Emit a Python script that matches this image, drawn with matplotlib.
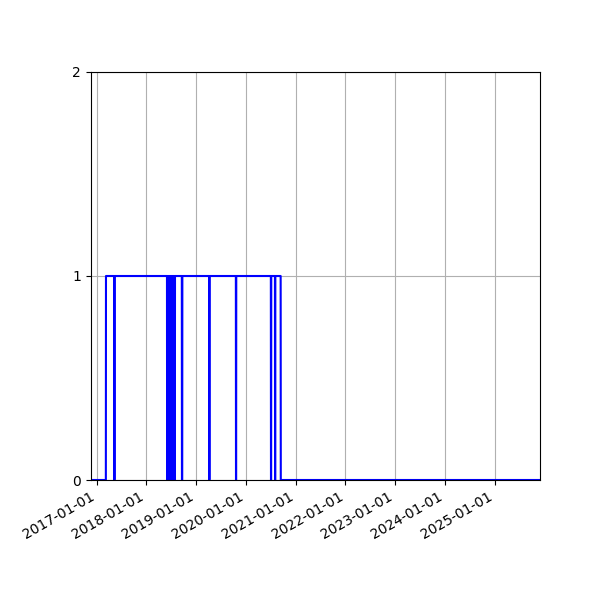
import matplotlib
matplotlib.use("Agg")
import matplotlib.pyplot as plt
import matplotlib.dates as mdates
import numpy as np
import pandas as pd

START = "2016-11-17"
END = "2025-12-01"

# periods where the flag is 1 (inclusive), everything else is 0
on_starts = [
    "2017-03-10", "2017-05-13",
    "2018-06-05", "2018-06-13", "2018-06-21", "2018-06-30",
    "2018-07-08", "2018-07-16", "2018-07-24", "2018-07-30",
    "2018-09-22", "2019-04-10", "2019-10-23", "2020-07-06", "2020-08-05",
]
on_ends = [
    "2017-05-09", "2018-06-01",
    "2018-06-09", "2018-06-17", "2018-06-26", "2018-07-04",
    "2018-07-12", "2018-07-20", "2018-07-26", "2018-09-18",
    "2019-04-07", "2019-10-20", "2020-07-03", "2020-08-02", "2020-09-13",
]

days = pd.date_range(START, END, freq="D")
flag = pd.Series(0, index=days)
for s, e in zip(on_starts, on_ends):
    flag.loc[s:e] = 1

fig = plt.figure(figsize=(6, 6), dpi=100)
ax = fig.add_axes([0.151, 0.2, 0.749, 0.68])
ax.plot(flag.index, flag.values, color="blue", lw=1.5)
ax.set_xlim(days[0], days[-1])
ax.set_ylim(0, 2)
ax.set_yticks([0, 1, 2])
ax.xaxis.set_major_locator(mdates.YearLocator())
ax.xaxis.set_major_formatter(mdates.DateFormatter("%Y-%m-%d"))
ax.grid(True)
for lbl in ax.get_xticklabels():
    lbl.set_rotation(30)
    lbl.set_ha("right")

fig.savefig("out.png")
